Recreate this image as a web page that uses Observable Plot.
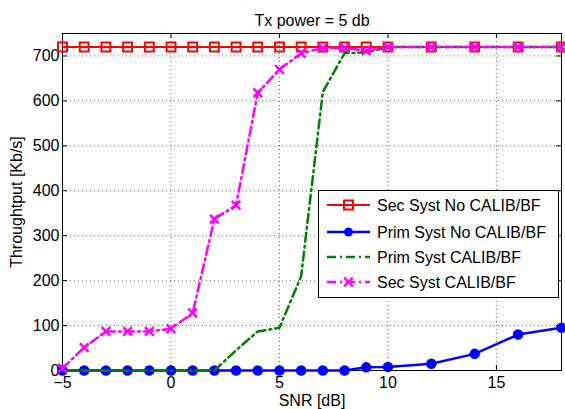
<!DOCTYPE html>
<html><head><meta charset="utf-8">
<script src="https://cdn.jsdelivr.net/npm/d3@7"></script>
<script src="https://cdn.jsdelivr.net/npm/@observablehq/plot@0.6"></script>
<style>body{margin:0;background:#fff}#chart{position:relative;width:565px;height:409px}</style>
</head><body><div id="chart"></div>
<script>
const snr = [-5,-4,-3,-2,-1,0,1,2,3,4,5,6,7,8,9,10,12,14,16,18];
const secNoCalib = [720,720,720,720,720,720,720,720,720,720,720,720,720,720,720,720,720,720,720,720];
const primNoCalib = [0,0,0,0,0,0,0,0,0,0,0,0,0,0,7,8,15,37,80,95];
const primCalib = [0,0,0,0,0,0,0,0,45,87,95,210,620,706,708,720,720,720,720,720];
const secCalib = [5,51,87,87,87,93,128,337,368,618,670,706,718,718,712,720,720,720,720,720];
const seriesNames = ["Sec Syst No CALIB/BF","Prim Syst No CALIB/BF","Prim Syst CALIB/BF","Sec Syst CALIB/BF"];
const xTicks = [-5,0,5,10,15];
const yTicks = [0,100,200,300,400,500,600,700];
const title = "Tx power = 5 db";
const xLabel = "SNR [dB]";
const yLabel = "Throughtput [Kb/s]";

const colors = ["#ff0000","#0000ff","#008000","#ff00ff"];
const dash = [null,null,"9,4,2,4","9,4,2,4"];
const valuesList = [secNoCalib, primNoCalib, primCalib, secCalib];
const rows = (i) => snr.map((x, k) => ({x, y: valuesList[i][k]}));

const W = 565, H = 409, mL = 62, mR = 4, mT = 33, mB = 39;
const pw = W - mL - mR, ph = H - mT - mB;
const tickLen = 5;
const FONT = "'Liberation Sans', Arial, sans-serif";

const plot = Plot.plot({
  width: W, height: H,
  marginLeft: mL, marginRight: mR, marginTop: mT, marginBottom: mB,
  style: {fontFamily: FONT, fontSize: "16px", color: "#000", background: "#fff"},
  x: {domain: [-5, 18]},
  y: {domain: [0, 750]},
  marks: [
    Plot.gridX(xTicks, {stroke: "#666", strokeOpacity: 1, strokeDasharray: "1,3"}),
    Plot.gridY(yTicks, {stroke: "#666", strokeOpacity: 1, strokeDasharray: "1,3"}),
    Plot.tickX(xTicks, {x: d => d, insetTop: ph - tickLen, stroke: "#000"}),
    Plot.tickX(xTicks, {x: d => d, insetBottom: ph - tickLen, stroke: "#000"}),
    Plot.tickY(yTicks, {y: d => d, insetRight: pw - tickLen, stroke: "#000"}),
    Plot.tickY(yTicks, {y: d => d, insetLeft: pw - tickLen, stroke: "#000"}),
    Plot.axisX(xTicks, {tickSize: 0, tickPadding: 6, label: xLabel, labelAnchor: "center", labelArrow: "none", labelOffset: 35}),
    Plot.axisY(yTicks, {tickSize: 0, tickPadding: 3, label: yLabel, labelAnchor: "center", labelArrow: "none", labelOffset: 52}),
    Plot.frame({stroke: "#000", strokeWidth: 1}),
    // series
    Plot.line(rows(0), {x: "x", y: "y", stroke: colors[0], strokeWidth: 2}),
    Plot.dot(rows(0), {x: "x", y: "y", symbol: "square", r: 5, stroke: colors[0], strokeWidth: 2, fill: "none"}),
    Plot.line(rows(1), {x: "x", y: "y", stroke: colors[1], strokeWidth: 2.5}),
    Plot.dot(rows(1), {x: "x", y: "y", symbol: "circle", r: 4.5, fill: colors[1], stroke: colors[1]}),
    Plot.line(rows(2), {x: "x", y: "y", stroke: colors[2], strokeWidth: 2.5, strokeDasharray: dash[2]}),
    Plot.line(rows(3), {x: "x", y: "y", stroke: colors[3], strokeWidth: 2.5, strokeDasharray: dash[3]}),
    Plot.dot(rows(3), {x: "x", y: "y", symbol: "times", r: 4, stroke: colors[3], strokeWidth: 2.5}),
    Plot.text([title], {frameAnchor: "top", dy: -19, text: d => d, fill: "#000"})
  ]
});
const svg = d3.select(plot).style("overflow", "visible");
svg.selectAll("text").attr("font-size", 16).style("font-size", "16px");
svg.selectAll("g").filter(function(){ return this.getAttribute("font-size"); }).attr("font-size", 16);
// legend
const lx = 318, ly = 190, lw = 240, lh = 107;
const g = svg.append("g").attr("font-family", FONT).attr("font-size", 16).attr("text-anchor", "start");
g.append("rect").attr("x", lx + 0.5).attr("y", ly + 0.5).attr("width", lw).attr("height", lh)
  .attr("fill", "#fff").attr("stroke", "#000").attr("stroke-width", 1);
const rowY = [205, 232, 257, 282];
seriesNames.forEach((name, i) => {
  const y = rowY[i];
  g.append("line").attr("x1", 327).attr("x2", 370).attr("y1", y).attr("y2", y)
    .attr("stroke", colors[i]).attr("stroke-width", i === 0 ? 2 : 2.5)
    .attr("stroke-dasharray", dash[i]);
  if (i === 0) g.append("rect").attr("x", 344).attr("y", y - 4.5).attr("width", 9).attr("height", 9)
    .attr("fill", "none").attr("stroke", colors[0]).attr("stroke-width", 2);
  if (i === 1) g.append("circle").attr("cx", 348.5).attr("cy", y).attr("r", 4.5).attr("fill", colors[1]);
  if (i === 3) g.append("path").attr("d", d3.symbol(d3.symbolTimes, Math.PI * 16)()).attr("transform", `translate(348.5,${y})`)
    .attr("stroke", colors[3]).attr("stroke-width", 2.5).attr("fill", "none");
  g.append("text").attr("x", 377).attr("y", y).attr("dy", "0.35em").attr("text-anchor", "start").attr("fill", "#000").text(name);
});
document.getElementById("chart").appendChild(plot);
</script>
</body></html>
